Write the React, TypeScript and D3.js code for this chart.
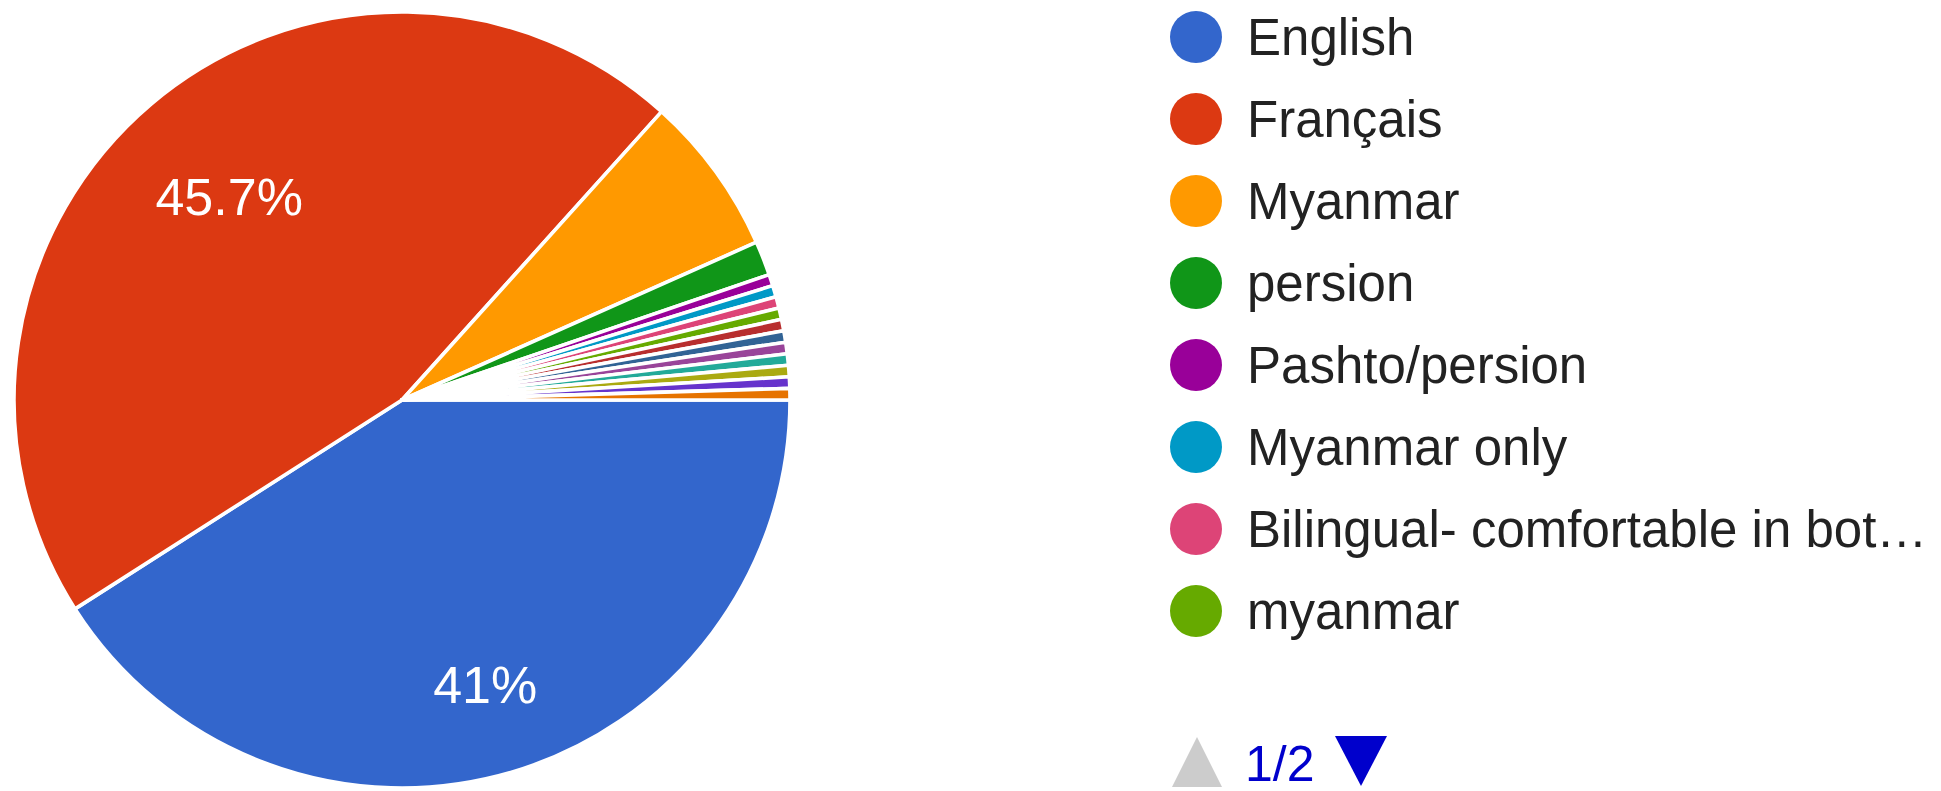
import React, { useEffect, useRef } from 'react';
import * as d3 from 'd3';

// answers, in the order the pie draws them (clockwise from 3 o'clock)
const categories = [
  'English',
  'Français',
  'Myanmar',
  'persion',
  'Pashto/persion',
  'Myanmar only',
  'Bilingual- comfortable in bot…',
  'myanmar',
  // legend page 2 (not visible in the picture)
  'Other 9',
  'Other 10',
  'Other 11',
  'Other 12',
  'Other 13',
  'Other 14',
  'Other 15',
];
const responses = [86, 96, 14, 3, 1, 1, 1, 1, 1, 1, 1, 1, 1, 1, 1];
const colors = [
  '#3366cc', '#dc3912', '#ff9900', '#109618', '#990099', '#0099c6', '#dd4477', '#66aa00',
  '#b82e2e', '#316395', '#994499', '#22aa99', '#aaaa11', '#6633cc', '#e67300',
];
const legendPage = 1;
const legendPages = 2;
const perPage = 8;

const W = 1941;
const H = 791;
const FONT = '"Liberation Sans", Arial, sans-serif';

export default function App() {
  const ref = useRef<SVGSVGElement>(null);

  useEffect(() => {
    const svg = d3.select(ref.current);
    svg.selectAll('*').remove();

    const cx = 402;
    const cy = 400;
    const r = 388;
    const total = d3.sum(responses);

    const pie = d3.pie<number>()
      .sort(null)
      .startAngle(Math.PI / 2)
      .endAngle(Math.PI / 2 + 2 * Math.PI);
    const arcs = pie(responses);
    const arc = d3.arc<d3.PieArcDatum<number>>().innerRadius(0).outerRadius(r);

    const g = svg.append('g').attr('transform', `translate(${cx},${cy})`);
    g.selectAll('path')
      .data(arcs)
      .enter()
      .append('path')
      .attr('d', arc)
      .attr('fill', (d, i) => colors[i])
      .attr('stroke', '#fff')
      .attr('stroke-width', 3.6)
      .attr('stroke-linejoin', 'round');

    // percent labels on the big slices; the far corner of the text box sits on a fixed radius
    const fmt = d3.format('.3~r');
    const fs = 52;
    const labelR = r * 0.856;
    arcs.forEach(a => {
      const frac = a.value / total;
      if (frac < 0.1) return;
      const t = g.append('text')
        .attr('fill', '#fff')
        .attr('font-family', FONT)
        .attr('font-size', fs)
        .attr('text-anchor', 'middle')
        .text(fmt(frac * 100) + '%');
      const tw = (t.node() as SVGTextElement).getComputedTextLength();
      const mid = (a.startAngle + a.endAngle) / 2;
      const ux = Math.sin(mid);
      const uy = -Math.cos(mid);
      const sx = Math.sign(ux) * tw / 2;
      const sy = Math.sign(uy) * fs * 0.358;
      const us = ux * sx + uy * sy;
      const d = -us + Math.sqrt(us * us - (sx * sx + sy * sy) + labelR * labelR);
      t.attr('x', d * ux).attr('y', d * uy + fs * 0.358);
    });

    // legend, first page
    const rowY = d3.scaleLinear().domain([0, 1]).range([37, 119]);
    const items = categories.slice((legendPage - 1) * perPage, legendPage * perPage);
    const leg = svg.append('g');
    const row = leg.selectAll('g')
      .data(items)
      .enter()
      .append('g')
      .attr('transform', (d, i) => `translate(1196,${rowY(i)})`);
    row.append('circle')
      .attr('r', 26)
      .attr('fill', (d, i) => colors[(legendPage - 1) * perPage + i]);
    row.append('text')
      .attr('x', 51)
      .attr('y', 18)
      .attr('font-family', FONT)
      .attr('font-size', 51)
      .attr('fill', '#222')
      .text(d => d);

    // pager
    const py = 762;
    const pager = svg.append('g');
    pager.append('path')
      .attr('d', d3.line()([[1172, py + 25], [1222, py + 25], [1197, py - 25]]) + 'Z')
      .attr('fill', '#cccccc');
    pager.append('text')
      .attr('x', 1245)
      .attr('y', py + 19)
      .attr('font-family', FONT)
      .attr('font-size', 50)
      .attr('fill', '#0000cc')
      .text(`${legendPage}/${legendPages}`);
    pager.append('path')
      .attr('d', d3.line()([[1335, py - 26], [1387, py - 26], [1361, py + 24]]) + 'Z')
      .attr('fill', '#0000cc');
  }, []);

  return (
    <div style={{ position: 'absolute', left: 0, top: 0, background: '#fff' }}>
      <svg ref={ref} width={W} height={H} />
    </div>
  );
}
